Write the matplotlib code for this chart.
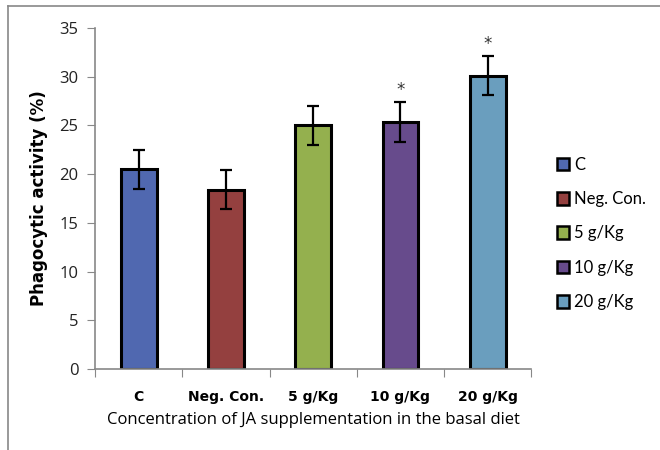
import matplotlib.pyplot as plt
from matplotlib.patches import Patch
from matplotlib.lines import Line2D

# data
groups = ['C', 'Neg. Con.', '5 g/Kg', '10 g/Kg', '20 g/Kg']
activity = [20.5, 18.4, 25.0, 25.35, 30.1]
errors = [2.0, 2.0, 2.0, 2.05, 2.0]
significant = [False, False, False, True, True]
colors = ['#5068B0', '#94403F', '#94B04E', '#674B8C', '#6A9EBE']

fig = plt.figure(figsize=(6.6, 4.5), dpi=100)
ax = fig.add_axes([0.144, 0.18, 0.661, 0.758])

x = list(range(len(groups)))
ax.bar(x, activity, width=0.41, color=colors, edgecolor='black', linewidth=2.2, zorder=2)
ax.errorbar(x, activity, yerr=errors, fmt='none', ecolor='black', elinewidth=1.6,
            capsize=4, capthick=1.6, zorder=3)
for xi, v, e, s in zip(x, activity, errors, significant):
    if s:
        ax.text(xi, v + e + 0.3, '*', ha='center', va='bottom', fontsize=12, color='#333333')

ax.set_xlim(-0.5, len(groups) - 0.5)
ax.set_ylim(0, 35)
ax.set_yticks(range(0, 36, 5))
ax.set_xticks([i + 0.5 for i in range(-1, len(groups))])
ax.set_xticklabels([])
ax.set_xticks(x, minor=True)
ax.set_xticklabels(groups, minor=True, fontsize=10, fontweight='bold')
ax.tick_params(axis='x', which='major', length=6, color='#888888')
ax.tick_params(axis='x', which='minor', length=0, pad=15)
ax.tick_params(axis='y', length=6, color='#888888', labelsize=12, labelcolor='#222222', pad=6)
for t in ax.get_yticklabels():
    t.set_family(['Open Sans', 'DejaVu Sans'])

for side in ['top', 'right']:
    ax.spines[side].set_visible(False)
for side in ['left', 'bottom']:
    ax.spines[side].set_color('#888888')
    ax.spines[side].set_linewidth(1.2)

ax.set_xlabel('Concentration of JA supplementation in the basal diet', fontsize=12,
              family=['Open Sans', 'DejaVu Sans'], labelpad=6)
ax.set_ylabel('Phagocytic activity (%)', fontsize=12, fontweight='bold', labelpad=8)

handles = [Patch(facecolor=c, edgecolor='black', linewidth=1.8) for c in colors]
leg = fig.legend(handles, groups, loc='upper left', bbox_to_anchor=(0.821, 0.685),
                 frameon=False, handlelength=0.75, handleheight=0.8, handletextpad=0.3,
                 labelspacing=1.1, prop={'family': ['Lato', 'DejaVu Sans'], 'size': 12})

# outer frame lines
fig.add_artist(Line2D([8 / 660, 1], [1 - 6 / 450, 1 - 6 / 450], color='#888888', linewidth=1.2))
fig.add_artist(Line2D([8 / 660, 8 / 660], [0, 1 - 6 / 450], color='#888888', linewidth=1.2))

fig.savefig('out.png', dpi=100)
